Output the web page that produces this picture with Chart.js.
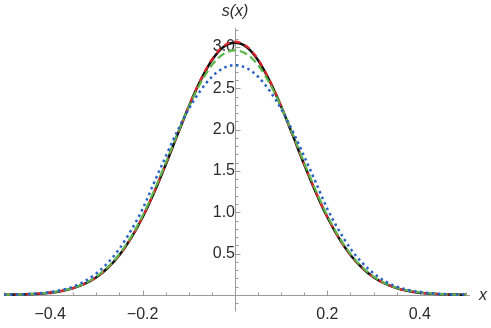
<!DOCTYPE html>
<html>
<head>
  <script src="https://cdn.jsdelivr.net/npm/chart.js@4.4.0/dist/chart.umd.min.js"></script>
  <style>
    html, body { margin: 0; padding: 0; background: #fff; }
    #wrap { width: 491px; height: 328px; }
  </style>
</head>
<body>
  <div id="wrap"><canvas id="plot"></canvas></div>

  <script>
  // sample positions along x
  var xs = [-0.5,-0.475,-0.45,-0.425,-0.4,-0.375,-0.35,-0.325,-0.3,-0.275,-0.25,-0.225,-0.2,-0.175,-0.15,-0.125,-0.1,-0.075,-0.05,-0.025,
            0,0.025,0.05,0.075,0.1,0.125,0.15,0.175,0.2,0.225,0.25,0.275,0.3,0.325,0.35,0.375,0.4,0.425,0.45,0.475,0.5];

  // curves
  var blackVals = [0.002,0.004,0.008,0.015,0.027,0.048,0.082,0.135,0.214,0.328,0.483,0.686,0.94,1.24,1.575,1.93,2.28,2.59,2.84,3.0,
                   3.05,3.0,2.84,2.59,2.28,1.93,1.575,1.24,0.94,0.686,0.483,0.328,0.214,0.135,0.082,0.048,0.027,0.015,0.008,0.004,0.002];
  var redVals = [0.002,0.004,0.008,0.015,0.027,0.048,0.082,0.135,0.214,0.328,0.484,0.688,0.942,1.243,1.58,1.935,2.285,2.598,2.85,3.01,
                 3.065,3.01,2.85,2.598,2.285,1.935,1.58,1.243,0.942,0.688,0.484,0.328,0.214,0.135,0.082,0.048,0.027,0.015,0.008,0.004,0.002];
  var greenVals = [0.002,0.004,0.008,0.016,0.029,0.051,0.086,0.14,0.222,0.338,0.496,0.702,0.958,1.262,1.597,1.945,2.275,2.56,2.78,2.915,
                   2.96,2.915,2.78,2.56,2.275,1.945,1.597,1.262,0.958,0.702,0.496,0.338,0.222,0.14,0.086,0.051,0.029,0.016,0.008,0.004,0.002];
  var blueVals = [0.003,0.005,0.01,0.019,0.034,0.06,0.1,0.165,0.26,0.39,0.56,0.78,1.04,1.36,1.675,1.98,2.25,2.47,2.64,2.745,
                  2.78,2.745,2.64,2.47,2.25,1.98,1.675,1.36,1.04,0.78,0.56,0.39,0.26,0.165,0.1,0.06,0.034,0.019,0.01,0.005,0.003];

  var xTicks = [-0.4, -0.2, 0.2, 0.4];
  var yTicks = [0.5, 1.0, 1.5, 2.0, 2.5, 3.0];
  var xMinor = [-0.5,-0.45,-0.4,-0.35,-0.3,-0.25,-0.2,-0.15,-0.1,-0.05,0.05,0.1,0.15,0.2,0.25,0.3,0.35,0.4,0.45,0.5];
  var yMinor = [-0.1,0.1,0.2,0.3,0.4,0.5,0.6,0.7,0.8,0.9,1.0,1.1,1.2,1.3,1.4,1.5,1.6,1.7,1.8,1.9,2.0,2.1,2.2,2.3,2.4,2.5,2.6,2.7,2.8,2.9,3.0,3.1,3.2];

  var axisColor = '#9a9a9a';
  var labelColor = '#2b2b2b';
  var fontFam = '"Liberation Sans", Arial, sans-serif';

  function pts(vals) {
    return vals.map(function (v, i) { return {x: xs[i], y: v}; });
  }

  function isMajor(v, list) {
    return list.some(function (t) { return Math.abs(t - v) < 1e-9; });
  }

  // Mathematica style axes crossing at the origin, ticks pointing inward
  var axesPlugin = {
    id: 'axesPlugin',
    beforeDatasetsDraw: function (chart) {
      var ctx = chart.ctx, x = chart.scales.x, y = chart.scales.y, ca = chart.chartArea;
      var x0 = Math.round(x.getPixelForValue(0)) + 0.5;
      var y0 = Math.round(y.getPixelForValue(0)) + 0.5;
      ctx.save();
      ctx.strokeStyle = axisColor;
      ctx.lineWidth = 1;
      ctx.beginPath();
      ctx.moveTo(ca.left, y0); ctx.lineTo(ca.right, y0);
      ctx.moveTo(x0, ca.top); ctx.lineTo(x0, ca.bottom);
      xMinor.forEach(function (v) {
        var p = Math.round(x.getPixelForValue(v)) + 0.5;
        var len = isMajor(v, xTicks) ? 5 : 3;
        ctx.moveTo(p, y0); ctx.lineTo(p, y0 - len);
      });
      yMinor.forEach(function (v) {
        var p = Math.round(y.getPixelForValue(v)) + 0.5;
        var len = isMajor(v, yTicks) ? 5 : 3;
        ctx.moveTo(x0, p); ctx.lineTo(x0 + len, p);
      });
      ctx.stroke();
      ctx.restore();
    },
    afterDraw: function (chart) {
      var ctx = chart.ctx, x = chart.scales.x, y = chart.scales.y, ca = chart.chartArea;
      ctx.save();
      ctx.fillStyle = labelColor;
      ctx.font = 'italic 16px ' + fontFam;
      ctx.textAlign = 'center';
      ctx.textBaseline = 'middle';
      ctx.fillText('s(x)', x.getPixelForValue(0), 12);
      ctx.textAlign = 'left';
      ctx.fillText('x', ca.right + 9, y.getPixelForValue(0) + 1);
      ctx.restore();
    }
  };

  function fmt(v) {
    return Number(v).toFixed(1).replace('-', '\u2212');
  }

  new Chart(document.getElementById('plot'), {
    type: 'line',
    data: {
      datasets: [
        {label: 'exact', data: pts(blackVals), borderColor: '#111', borderWidth: 2.5, order: 4},
        {label: 'red', data: pts(redVals), borderColor: '#e3262b', borderWidth: 2.2, borderDash: [6, 5], order: 3},
        {label: 'green', data: pts(greenVals), borderColor: '#5db64a', borderWidth: 2.2, borderDash: [8, 4], order: 2},
        {label: 'blue', data: pts(blueVals), borderColor: '#2962c4', borderWidth: 2.5, borderDash: [2.5, 3.5], order: 1}
      ]
    },
    options: {
      responsive: true,
      maintainAspectRatio: false,
      animation: false,
      layout: {padding: {left: 4, right: 21, top: 28, bottom: 10}},
      elements: {
        point: {radius: 0},
        line: {tension: 0.4, cubicInterpolationMode: 'monotone', fill: false}
      },
      plugins: {legend: {display: false}, tooltip: {enabled: false}},
      scales: {
        x: {
          type: 'linear',
          min: -0.5,
          max: 0.5087,
          position: {y: 0},
          grid: {display: false, drawTicks: false},
          border: {display: false},
          afterBuildTicks: function (s) { s.ticks = xTicks.map(function (v) { return {value: v}; }); },
          ticks: {
            padding: 10,
            maxRotation: 0,
            autoSkip: false,
            color: labelColor,
            font: {family: fontFam, size: 16},
            callback: fmt
          }
        },
        y: {
          type: 'linear',
          min: -0.2,
          max: 3.23,
          position: {x: 0},
          grid: {display: false, drawTicks: false},
          border: {display: false},
          afterBuildTicks: function (s) { s.ticks = yTicks.map(function (v) { return {value: v}; }); },
          ticks: {
            padding: 7,
            autoSkip: false,
            color: labelColor,
            font: {family: fontFam, size: 16},
            callback: fmt
          }
        }
      }
    },
    plugins: [axesPlugin]
  });
  </script>
</body>
</html>
